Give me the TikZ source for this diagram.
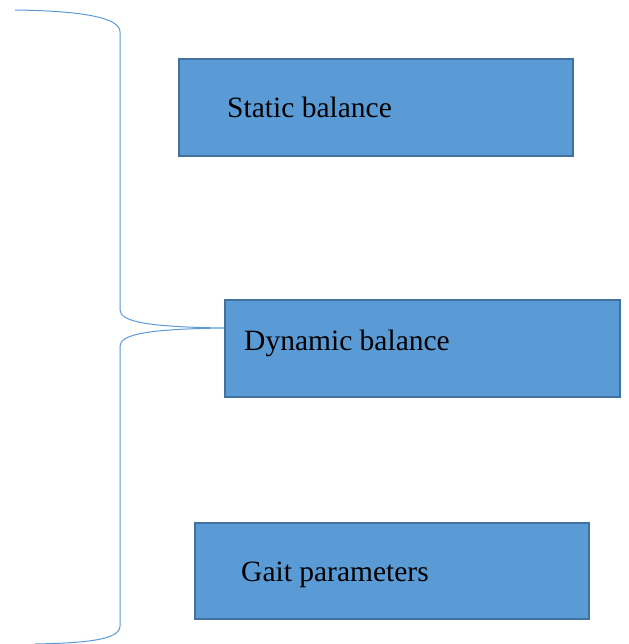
\documentclass[tikz,border=0pt]{standalone}
\usepackage{fontspec}
\setmainfont{Liberation Serif}
\newfontfamily\tnr{Liberation Serif}
\definecolor{boxfill}{HTML}{5B9BD5}
\definecolor{boxline}{HTML}{41719C}
\definecolor{bracecol}{HTML}{5B9BD5}
\begin{document}
\begin{tikzpicture}[x=1pt,y=-1pt,
  box/.style={draw=boxline,line width=2pt,fill=boxfill,rectangle,inner sep=0pt},
  lbl/.style={anchor=base west,inner sep=0pt,font=\tnr\fontsize{29.5}{32}\selectfont},
  brace/.style={draw=bracecol,line width=1pt}]
\useasboundingbox (0,0) rectangle (628,644);
% boxes
\node[box,minimum width=394pt,minimum height=97pt] (static) at (375.5,107.5) {};
\node[box,minimum width=395pt,minimum height=97pt] (dynamic) at (422.5,348.5) {};
\node[box,minimum width=394pt,minimum height=96pt] (gait) at (392,570.5) {};
% labels
\node[lbl] (tstatic) at (227,118) {Static balance};
\node[lbl] (tdyn) at (244,350) {Dynamic balance};
\node[lbl] (tgait) at (241,581) {Gait parameters};
% brace
\coordinate (btop) at (15,10);
\coordinate (bbot) at (35,644);
\coordinate (tip) at (dynamic.west |- 0,328);
\draw[brace] (btop) .. controls (85,11) and (120,18) .. (120,32)
  -- (120,310) .. controls (120,322) and (150,327) .. (tip)
  .. controls (150,329) and (120,334) .. (120,346)
  -- (120,626) .. controls (120,640) and (85,643) .. (bbot);
\end{tikzpicture}
\end{document}
